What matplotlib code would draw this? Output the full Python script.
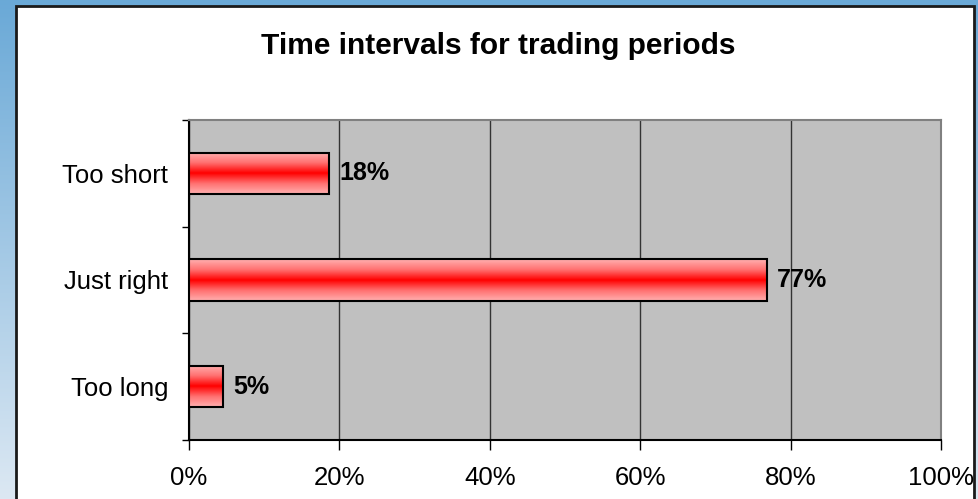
import matplotlib
matplotlib.use("Agg")
import matplotlib.pyplot as plt
import numpy as np
from matplotlib.colors import LinearSegmentedColormap
from matplotlib.patches import Rectangle

plt.rcParams['font.family'] = ['Liberation Sans', 'DejaVu Sans']

# data
categories = ["Too short", "Just right", "Too long"]
shares = [18.6, 76.8, 4.5]
share_labels = ["18%", "77%", "5%"]
x_ticks = [0, 20, 40, 60, 80, 100]

W, H = 979, 499
fig = plt.figure(figsize=(W / 100, H / 100), dpi=100)

# blue gradient backdrop
bg = fig.add_axes([0, 0, 1, 1], zorder=-10)
grad = np.linspace(0, 1, 256).reshape(-1, 1)
bg_cmap = LinearSegmentedColormap.from_list("bg", ["#6aa9d7", "#dce8f3"])
bg.imshow(grad, aspect="auto", cmap=bg_cmap, extent=[0, 1, 0, 1], origin="upper")
bg.set_axis_off()

# white panel
panel = Rectangle((16 / W, -0.05), (974 - 16) / W, 1.05 - 6 / H,
                  transform=fig.transFigure, facecolor="white",
                  edgecolor="#1a1a1a", linewidth=2, zorder=-5)
fig.patches.append(panel)

ax = fig.add_axes([189 / W, 1 - 440 / H, (941 - 189) / W, (440 - 120) / H])
ax.set_facecolor("#c0c0c0")

ypos = np.arange(len(categories))
bar_h = 0.39
bar_cmap = LinearSegmentedColormap.from_list("bar", ["#ffb0b0", "#ff7070", "#ff0000", "#ff7070", "#ffb0b0"])
vgrad = np.linspace(0, 1, 100).reshape(-1, 1)

for y, v, lab in zip(ypos, shares, share_labels):
    ax.imshow(vgrad, aspect="auto", cmap=bar_cmap,
              extent=[0, v, y - bar_h / 2, y + bar_h / 2], zorder=3)
    ax.barh(y, v, height=bar_h, facecolor="none", edgecolor="black",
            linewidth=1.5, zorder=4)
    ax.text(v + 1.4, y, lab, va="center", ha="left", fontsize=18,
            fontweight="bold", zorder=5)

ax.set_xlim(0, 100)
ax.set_ylim(len(categories) - 0.5, -0.5)
ax.set_aspect("auto")

ax.set_xticks(x_ticks)
ax.set_xticklabels([f"{t}%" for t in x_ticks], fontsize=18.5)
ax.tick_params(axis="x", direction="out", length=7, width=1, pad=12)
ax.xaxis.grid(True, color="#333333", linewidth=1)
ax.set_axisbelow(True)

ax.set_yticks(ypos)
ax.set_yticklabels(categories, fontsize=18.5)
ax.set_yticks(np.arange(len(categories) + 1) - 0.5, minor=True)
ax.tick_params(axis="y", which="major", length=0, pad=15)
ax.tick_params(axis="y", which="minor", direction="out", length=5, width=1)

for side in ["top", "right"]:
    ax.spines[side].set_color("#808080")
    ax.spines[side].set_linewidth(1.5)
for side in ["left", "bottom"]:
    ax.spines[side].set_color("black")
    ax.spines[side].set_linewidth(1.5)

fig.text(498 / W, 1 - 46 / H, "Time intervals for trading periods",
         ha="center", va="center", fontsize=21.5, fontweight="bold")

fig.savefig("out.png", dpi=100)
